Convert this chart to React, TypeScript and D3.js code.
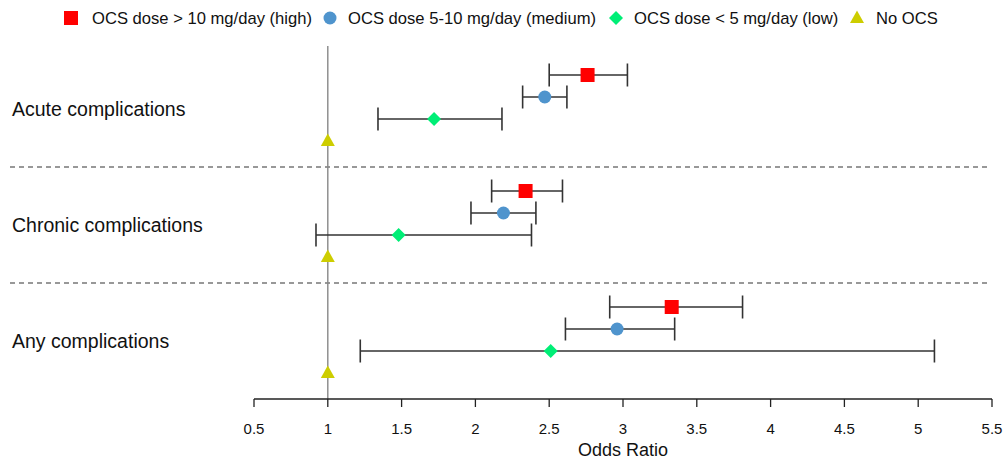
import React from "react";
import * as d3 from "d3";

const groups = ["Acute complications", "Chronic complications", "Any complications"];
const seriesNames = [
  "OCS dose > 10 mg/day (high)",
  "OCS dose 5-10 mg/day (medium)",
  "OCS dose < 5 mg/day (low)",
  "No OCS",
];
const seriesColors = ["#FF0000", "#4F94CD", "#00EE76", "#CDCD00"];
const seriesShapes = ["square", "circle", "diamond", "triangle"];

// odds ratios per group: [high, medium, low, none]
const orHigh = [2.76, 2.34, 3.33];
const loHigh = [2.50, 2.11, 2.91];
const hiHigh = [3.03, 2.59, 3.81];
const orMed = [2.47, 2.19, 2.96];
const loMed = [2.32, 1.97, 2.61];
const hiMed = [2.62, 2.41, 3.35];
const orLow = [1.72, 1.48, 2.51];
const loLow = [1.34, 0.92, 1.22];
const hiLow = [2.18, 2.38, 5.11];
const orNone = [1, 1, 1];

const xTicks = [0.5, 1, 1.5, 2, 2.5, 3, 3.5, 4, 4.5, 5, 5.5];
const xTitle = "Odds Ratio";

const W = 1005;
const H = 462;
const FONT = "'Liberation Sans', Arial, sans-serif";

function Marker({ shape, x, y, color }: { shape: string; x: number; y: number; color: string }) {
  if (shape === "square") return <rect x={x - 7} y={y - 7} width={14} height={14} fill={color} />;
  if (shape === "circle") return <circle cx={x} cy={y} r={6.5} fill={color} />;
  if (shape === "diamond") {
    return <path d={`M${x},${y - 7}L${x + 7},${y}L${x},${y + 7}L${x - 7},${y}Z`} fill={color} />;
  }
  return <path d={`M${x},${y - 7.5}L${x + 7},${y + 5}L${x - 7},${y + 5}Z`} fill={color} />;
}

export default function App() {
  const x = d3.scaleLinear().domain([0.5, 5.5]).range([254, 992]);
  const yg = d3.scaleBand<string>().domain(groups).range([47, 395]).padding(0);
  const yr = d3.scalePoint<string>().domain(seriesNames).range([28, 94]);
  const yOf = (g: string, s: string) => (yg(g) as number) + (yr(s) as number);

  const rows: { g: string; s: number; or: number; lo?: number; hi?: number }[] = [];
  groups.forEach((g, i) => {
    rows.push({ g, s: 0, or: orHigh[i], lo: loHigh[i], hi: hiHigh[i] });
    rows.push({ g, s: 1, or: orMed[i], lo: loMed[i], hi: hiMed[i] });
    rows.push({ g, s: 2, or: orLow[i], lo: loLow[i], hi: hiLow[i] });
    rows.push({ g, s: 3, or: orNone[i] });
  });

  const axisY = 399;
  const legendTextX = [92, 348, 634, 876];
  const legendMarkX = [71, 330, 616, 857];

  return (
    <svg width={W} height={H} style={{ position: "absolute", left: 0, top: 0, background: "#fff" }} fontFamily={FONT}>
      <rect width={W} height={H} fill="#fff" />
      {/* legend */}
      {seriesNames.map((s, i) => (
        <g key={s}>
          <Marker shape={seriesShapes[i]} x={legendMarkX[i]} y={18} color={seriesColors[i]} />
          <text x={legendTextX[i]} y={24} fontSize={16.6} fill="#111">
            {s}
          </text>
        </g>
      ))}
      {/* group separators */}
      {groups.slice(0, -1).map((g, i) => {
        const yA = yOf(g, seriesNames[3]);
        const yB = yOf(groups[i + 1], seriesNames[0]);
        const yy = (yA + yB) / 2 + 1;
        return <line key={g} x1={10} x2={988} y1={yy} y2={yy} stroke="#777" strokeWidth={1.3} strokeDasharray="5,4" />;
      })}
      {/* reference line */}
      <line x1={x(1)} x2={x(1)} y1={46} y2={axisY} stroke="#888" strokeWidth={1.4} />
      {/* group labels */}
      {groups.map((g) => (
        <text key={g} x={12} y={yOf(g, seriesNames[0]) + 41} fontSize={19.5} fill="#111">
          {g}
        </text>
      ))}
      {/* error bars */}
      {rows.filter((r) => r.lo !== undefined).map((r, i) => {
        const yy = yOf(r.g, seriesNames[r.s]);
        return (
          <g key={"e" + i} stroke="#333" strokeWidth={1.6}>
            <line x1={x(r.lo!)} x2={x(r.hi!)} y1={yy} y2={yy} />
            <line x1={x(r.lo!)} x2={x(r.lo!)} y1={yy - 11.5} y2={yy + 11.5} />
            <line x1={x(r.hi!)} x2={x(r.hi!)} y1={yy - 11.5} y2={yy + 11.5} />
          </g>
        );
      })}
      {/* points */}
      {rows.map((r, i) => (
        <Marker key={"m" + i} shape={seriesShapes[r.s]} x={x(r.or)} y={yOf(r.g, seriesNames[r.s])} color={seriesColors[r.s]} />
      ))}
      {/* x axis */}
      <line x1={x(0.5)} x2={x(5.5)} y1={axisY} y2={axisY} stroke="#222" strokeWidth={1.3} />
      {xTicks.map((t) => (
        <g key={t}>
          <line x1={x(t)} x2={x(t)} y1={axisY} y2={axisY + 8} stroke="#222" strokeWidth={1.3} />
          <text x={x(t)} y={434} fontSize={15} textAnchor="middle" fill="#111">
            {String(t)}
          </text>
        </g>
      ))}
      <text x={(x(0.5) + x(5.5)) / 2} y={456} fontSize={18} textAnchor="middle" fill="#111">
        {xTitle}
      </text>
    </svg>
  );
}
